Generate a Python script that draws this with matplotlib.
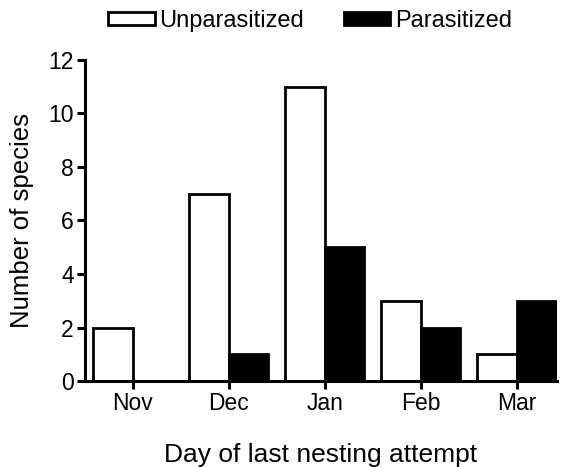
import matplotlib
matplotlib.use("Agg")
import matplotlib.pyplot as plt
import numpy as np
from matplotlib.patches import Patch

months = ["Nov", "Dec", "Jan", "Feb", "Mar"]
unparasitized = [2, 7, 11, 3, 1]
parasitized = [0, 1, 5, 2, 3]
yticks = [0, 2, 4, 6, 8, 10, 12]

plt.rcParams['font.family'] = ['Liberation Sans', 'DejaVu Sans']
fig = plt.figure(figsize=(5.65, 4.67), dpi=100)
ax = fig.add_axes([0.150, 0.184, 0.836, 0.688])
x = np.arange(len(months))
w = 0.41
lw = 2.0
ax.bar(x - w/2, unparasitized, w, facecolor='white', edgecolor='black', linewidth=lw, label='Unparasitized')
ax.bar(x + w/2, parasitized, w, facecolor='black', edgecolor='black', linewidth=lw, label='Parasitized')
ax.set_xlim(-0.5, 4.42)
ax.set_ylim(0, 12)
ax.set_yticks(yticks)
ax.set_xticks(x)
ax.set_xticklabels(months)
for s in ['top', 'right']:
    ax.spines[s].set_visible(False)
for s in ['left', 'bottom']:
    ax.spines[s].set_linewidth(2.2)
ax.tick_params(axis='both', direction='out', length=6, width=2.2, labelsize=16.5, pad=2)
ax.set_ylabel("Number of species", fontsize=18.5, labelpad=10)
ax.set_xlabel("Day of last nesting attempt", fontsize=19, labelpad=20)
handles = [Patch(facecolor='white', edgecolor='black', linewidth=2, label='Unparasitized'),
           Patch(facecolor='black', edgecolor='black', linewidth=2, label='Parasitized')]
fig.legend(handles=handles, loc='center', bbox_to_anchor=(0.549, 0.955), ncol=2, frameon=False,
           fontsize=17, handlelength=1.95, handleheight=0.5, handletextpad=0.2, columnspacing=1.7,
           borderpad=0)
fig.savefig("out.png", dpi=100)
